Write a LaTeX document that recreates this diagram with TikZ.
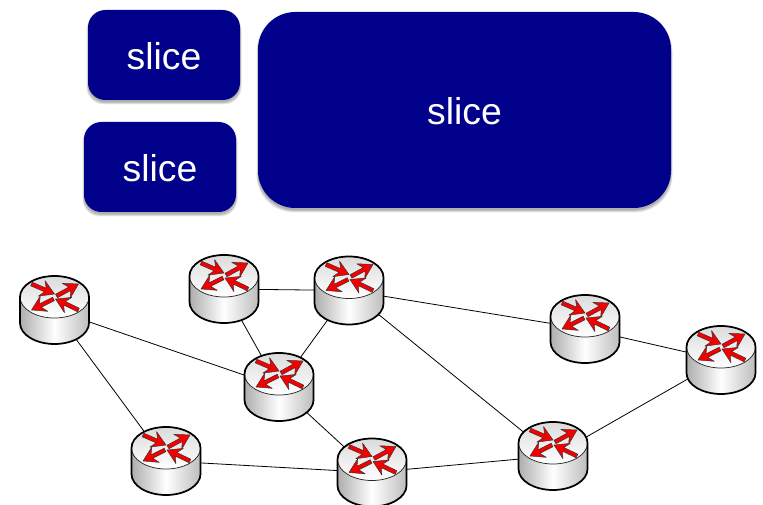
\documentclass[tikz,border=0pt]{standalone}
\usepackage{fontspec}
\setmainfont{Liberation Sans}
\definecolor{slicefill}{HTML}{00008B}
\definecolor{routerred}{HTML}{F50000}
\tikzset{
  slicebox/.style={fill=slicefill,draw=none,rounded corners=#1},
  slicetext/.style={text=white,inner sep=0pt,font=\fontsize{28}{32}\selectfont},
  routerpt/.style={inner sep=0pt,minimum size=0pt,outer sep=0pt},
  link/.style={draw=black,line width=0.6pt},
  routeroutline/.style={draw=black,line width=1.3pt},
  routerrim/.style={draw=black!85,line width=0.55pt},
  arrowshape/.style={fill=routerred,draw=black!80,line width=0.35pt,line join=miter,miter limit=4},
}
% soft shadow: stacked translucent copies
\newcommand{\softshadow}[5]{%
  \foreach \g in {3,2,1,0}{%
    \fill[black,opacity=0.09,rounded corners=#5] ({#1-\g*0.5},{#2+4-\g*0.5}) rectangle ({#3+\g*0.5},{#4+2+\g*0.8});}}
\newcommand{\rarrow}[4]{%
  \pgfmathsetmacro\rang{atan2(#4-#2,#3-#1)}%
  \pgfmathsetmacro\rlen{veclen(#3-#1,#4-#2)}%
  \begin{scope}[shift={(#1,#2)},rotate=\rang]
    \path[arrowshape] (0,-2) -- ({\rlen-10},-2) -- ({\rlen-14},-8.5) -- (\rlen,0) -- ({\rlen-14},8.5) -- ({\rlen-10},2) -- (0,2) -- cycle;
  \end{scope}}
\newcommand{\router}[3]{%
  \node[routerpt] (#1) at (#2,#3) {};}
\newcommand{\routerbody}[1]{%
  \begin{scope}[shift={(#1)}]
    \shade[left color=black!32,right color=black!26,middle color=white]
      (-34.5,-13) -- (-34.5,13) arc[start angle=180,end angle=0,x radius=34.5,y radius=21]
      -- (34.5,-13) -- cycle;
    \path[routerrim,top color=black!14,bottom color=white]
      (0,-13) ellipse[x radius=34.5,y radius=21];
    \path[routeroutline]
      (-34.5,-13) -- (-34.5,13) arc[start angle=180,end angle=0,x radius=34.5,y radius=21]
      -- (34.5,-13) arc[start angle=0,end angle=-180,x radius=34.5,y radius=21] -- cycle;
    \begin{scope}[shift={(0,-13)}]
      \rarrow{-23}{-13}{0}{-3}
      \rarrow{2}{-1}{24}{-13}
      \rarrow{-1}{2}{-23}{13}
      \rarrow{24}{13}{1}{2}
    \end{scope}
  \end{scope}}
\begin{document}
\begin{tikzpicture}[x=0.75pt,y=0.75pt,yscale=-1]
\useasboundingbox (0,0) rectangle (763,505);
% slices
\softshadow{88}{10}{240}{100}{13}
\softshadow{84}{122}{236}{212}{13}
\softshadow{258}{12}{671}{208}{28}
\path[slicebox=13] (88,10) rectangle (240,100);
\path[slicebox=13] (84,122) rectangle (236,212);
\path[slicebox=28] (258,12) rectangle (671,208);
\node[slicetext] (s1) at (164,56) {slice};
\node[slicetext] (s2) at (160,168) {slice};
\node[slicetext] (s3) at (464.5,111) {slice};
% routers
\router{r1}{54.5}{310}
\router{r2}{224}{289}
\router{r3}{349}{290.5}
\router{r4}{279}{387}
\router{r5}{166}{461}
\router{r6}{372}{472.5}
\router{r7}{553}{456}
\router{r8}{585}{329}
\router{r9}{721}{360}
\draw[link] (r1) -- (r4);
\draw[link] (r1) -- (r5);
\draw[link] (r2) -- (r3);
\draw[link] (r2) -- (r4);
\draw[link] (r3) -- (r4);
\draw[link] (r3) -- (r8);
\draw[link] (r3) -- (r7);
\draw[link] (r4) -- (r6);
\draw[link] (r5) -- (r6);
\draw[link] (r6) -- (r7);
\draw[link] (r7) -- (r9);
\draw[link] (r8) -- (r9);
\foreach \n in {r1,r2,r3,r4,r5,r6,r7,r8,r9}{\routerbody{\n}}
\end{tikzpicture}
\end{document}
